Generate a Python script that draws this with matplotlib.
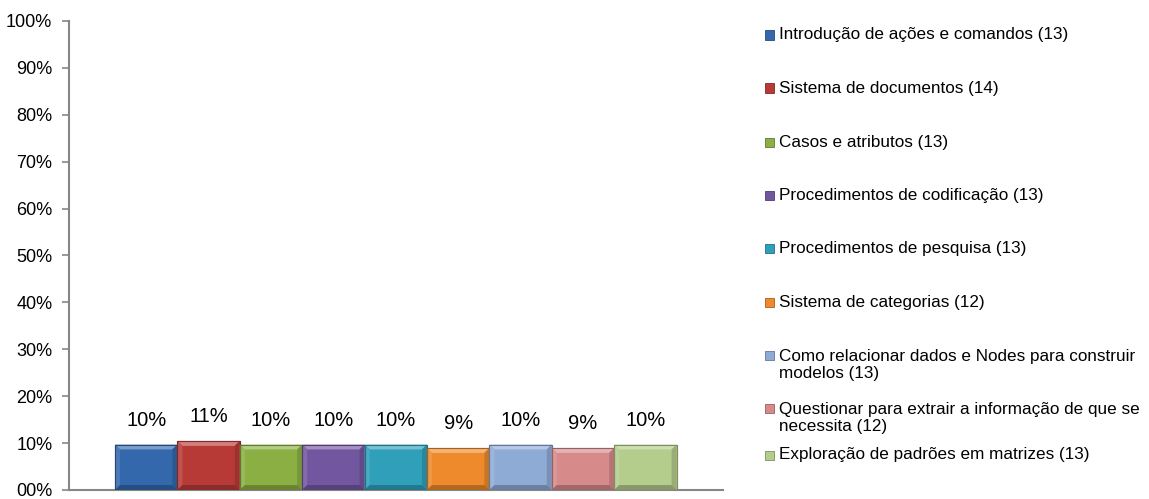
import matplotlib.pyplot as plt
import matplotlib.colors as mcolors
from matplotlib.patches import Rectangle
from matplotlib.ticker import FuncFormatter

plt.rcParams['font.family'] = ['Liberation Sans', 'DejaVu Sans']

categories = [
    "Introdução de ações e comandos (13)",
    "Sistema de documentos (14)",
    "Casos e atributos (13)",
    "Procedimentos de codificação (13)",
    "Procedimentos de pesquisa (13)",
    "Sistema de categorias (12)",
    "Como relacionar dados e Nodes para construir\nmodelos (13)",
    "Questionar para extrair a informação de que se\nnecessita (12)",
    "Exploração de padrões em matrizes (13)",
]
# bar heights in percent
values = [9.7, 10.45, 9.7, 9.7, 9.7, 8.96, 9.7, 8.96, 9.7]
value_labels = ["10%", "11%", "10%", "10%", "10%", "9%", "10%", "9%", "10%"]
colors = ["#3468AC", "#B83A37", "#8CAF44", "#7356A0", "#30A0BA",
          "#EE8A2B", "#8EABD6", "#D68A8A", "#B4CC8C"]


def shade(c, f):
    r = mcolors.to_rgb(c)
    if f >= 0:
        return tuple(v + (1 - v) * f for v in r)
    return tuple(v * (1 + f) for v in r)


W, H = 1149, 499
fig = plt.figure(figsize=(W / 100, H / 100), dpi=100)
ax = fig.add_axes([69 / W, 9 / H, (723 - 69) / W, (490 - 21) / H])

x = list(range(len(values)))
dark = [shade(c, -0.3) for c in colors]

ax.bar(x, values, width=1.0, color=colors, edgecolor=dark, linewidth=0.8, zorder=2)

# bevel faces on each bar
bx, by = 0.08, 1.05
for xi, v, c in zip(x, values, colors):
    x0, x1 = xi - 0.5, xi + 0.5
    ax.fill([x0, x1, x1 - bx, x0 + bx], [v, v, v - by, v - by],
            color=shade(c, 0.35), lw=0, zorder=3)
    ax.fill([x0, x0 + bx, x0 + bx, x0], [0, by, v - by, v],
            color=shade(c, 0.12), lw=0, zorder=3)
    ax.fill([x1, x1 - bx, x1 - bx, x1], [0, by, v - by, v],
            color=shade(c, -0.15), lw=0, zorder=3)
    ax.fill([x0, x1, x1 - bx, x0 + bx], [0, 0, by, by],
            color=shade(c, -0.25), lw=0, zorder=3)
    ax.bar(xi, v, width=1.0, fill=False, edgecolor=shade(c, -0.3), linewidth=0.8, zorder=4)

for xi, v, lab in zip(x, values, value_labels):
    ax.annotate(lab, (xi, v), xytext=(0, 17.5), textcoords="offset points",
                ha="center", va="center", fontsize=14.5, color="black")

bar_w = 62.4
ax.set_xlim(-0.5 - (115 - 69) / bar_w, -0.5 - (115 - 69) / bar_w + (723 - 69) / bar_w)
ax.set_ylim(0, 100)
ax.set_yticks(range(0, 101, 10))
ax.yaxis.set_major_formatter(FuncFormatter(lambda v, p: f"{int(v):02d}%"))
ax.set_xticks([])
ax.tick_params(axis="y", length=5, width=1.2, color="#868686", pad=7, labelsize=13)
for s in ["top", "right"]:
    ax.spines[s].set_visible(False)
for s in ["left", "bottom"]:
    ax.spines[s].set_color("#868686")
    ax.spines[s].set_linewidth(1.5)

# legend drawn by hand to match the uneven spacing of the original
legend_y = [35, 88, 142, 195, 248, 302, 355, 408, 455]
for cat, c, d, yc in zip(categories, colors, dark, legend_y):
    n = cat.count("\n") + 1
    fig.add_artist(Rectangle((765 / W, 1 - (yc + 4.5) / H), 9 / W, 9 / H,
                             facecolor=c, edgecolor=d, linewidth=0.6,
                             transform=fig.transFigure))
    ymid = yc + (n - 1) * 10
    fig.text(779 / W, 1 - ymid / H, cat, ha="left", va="center",
             fontsize=12.3, linespacing=1.1, color="black")

fig.savefig("out.png", dpi=100)
